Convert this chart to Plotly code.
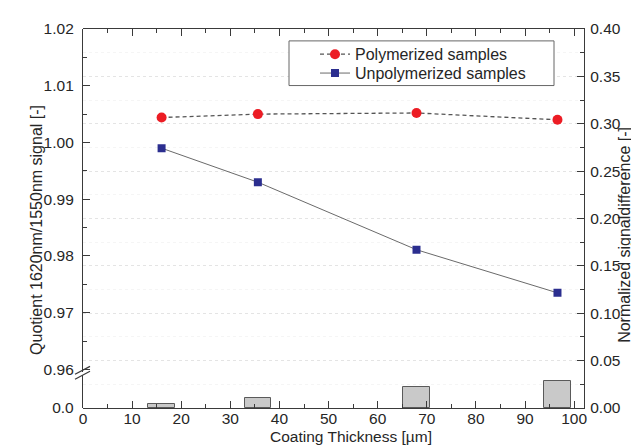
import plotly.graph_objects as go

# ---- data ----
thickness = [16.0, 35.6, 67.9, 96.6]
polymerized = [1.0044, 1.0050, 1.0052, 1.0040]
unpolymerized = [0.9990, 0.9930, 0.9811, 0.9735]
norm_diff = [0.004, 0.0105, 0.0225, 0.029]

left_ticks = [0.96, 0.97, 0.98, 0.99, 1.00, 1.01, 1.02]
right_ticks = [0.00, 0.05, 0.10, 0.15, 0.20, 0.25, 0.30, 0.35, 0.40]
x_ticks = [0, 10, 20, 30, 40, 50, 60, 70, 80, 90, 100]

W, H = 639, 446
L, R, T, B = 75, 576, 18, 400
FONT = "Liberation Sans, Arial, sans-serif"
AX = "#3a3a3a"
TXT = "#262626"


def px_x(p):
    return (p - L) / (R - L)


def px_y(p):
    return (B - p) / (B - T)


fig = go.Figure()

fig.add_trace(go.Bar(
    x=thickness, y=norm_diff, width=5.4, yaxis="y", xaxis="x",
    marker=dict(color="#c9c9c9", line=dict(color="#5a5a5a", width=1)),
    showlegend=False,
))
fig.add_trace(go.Scatter(
    x=thickness, y=polymerized, yaxis="y2", xaxis="x",
    mode="lines+markers", name="Polymerized samples", legend="legend",
    line=dict(color="#555555", width=1.3, dash="4px,3px"),
    marker=dict(symbol="circle", size=10, color="#ec1c24"),
))
fig.add_trace(go.Scatter(
    x=thickness, y=unpolymerized, yaxis="y2", xaxis="x",
    mode="lines+markers", name="Unpolymerized samples", legend="legend2",
    line=dict(color="#6a6a6a", width=1),
    marker=dict(symbol="square", size=8, color="#2b2e8f"),
))
# dummy trace to activate the lower left axis segment
fig.add_trace(go.Scatter(x=[None], y=[None], yaxis="y3", xaxis="x",
                         showlegend=False, hoverinfo="skip"))

tickfont = dict(family=FONT, size=15.5, color=TXT)
upper_bottom = px_y(364)
lower_top = px_y(367)

legend_common = dict(
    xanchor="left", yanchor="middle", bgcolor="rgba(0,0,0,0)", borderwidth=0,
    font=dict(family=FONT, size=16, color=TXT),
)

fig.update_layout(
    width=W, height=H,
    margin=dict(l=L, r=W - R, t=T, b=H - B, pad=0),
    paper_bgcolor="white", plot_bgcolor="rgba(0,0,0,0)",
    font=dict(family=FONT, size=15, color=TXT),
    bargap=0,
    xaxis=dict(
        range=[0, 102], anchor="y", tickvals=x_ticks, ticks="inside",
        ticklen=7, tickwidth=1.3, tickcolor=AX, showline=True, linecolor=AX,
        linewidth=1.3, mirror="ticks", showgrid=False, zeroline=False,
        tickfont=tickfont, ticklabelstandoff=-4,
        minor=dict(dtick=5, tick0=0, ticks="inside", ticklen=4, tickwidth=1.2,
                   tickcolor=AX, showgrid=False),
    ),
    yaxis=dict(
        domain=[0, 1], range=[0, 0.40], side="right", anchor="x",
        tickvals=right_ticks, tickformat=".2f", ticks="inside", ticklen=7,
        tickwidth=1.3, tickcolor=AX, showline=True, linecolor=AX,
        linewidth=1.3, zeroline=False, tickfont=tickfont,
        ticklabelstandoff=2,
        showgrid=True, gridcolor="#e4e4e4", gridwidth=1, griddash="dot",
        minor=dict(dtick=0.025, tick0=0, ticks="inside", ticklen=4,
                   tickwidth=1.2, tickcolor=AX, showgrid=True,
                   gridcolor="#f5f5f5", gridwidth=1),
    ),
    yaxis2=dict(
        domain=[upper_bottom, 1], range=[0.9595, 1.02], side="left",
        anchor="x", tickvals=left_ticks, tickformat=".2f", ticks="inside",
        ticklen=7, tickwidth=1.3, tickcolor=AX, showline=True, linecolor=AX,
        linewidth=1.3, zeroline=False, showgrid=False, tickfont=tickfont,
        ticklabelstandoff=5,
        minor=dict(dtick=0.005, tick0=0.96, ticks="inside", ticklen=4,
                   tickwidth=1.2, tickcolor=AX, showgrid=False),
    ),
    yaxis3=dict(
        domain=[0, lower_top], range=[0, 1], side="left", anchor="x",
        tickvals=[0], ticktext=["0.0"], ticks="inside", ticklen=7,
        tickwidth=1.3, tickcolor=AX, showline=True, linecolor=AX,
        linewidth=1.3, zeroline=False, showgrid=False, tickfont=tickfont,
        ticklabelstandoff=5,
    ),
    legend=dict(x=px_x(307), y=px_y(43.5), **legend_common),
    legend2=dict(x=px_x(307), y=px_y(62.5), **legend_common),
)

# legend frame
fig.add_shape(type="rect", xref="paper", yref="paper",
              x0=px_x(281), x1=px_x(546), y0=px_y(75), y1=px_y(30),
              line=dict(color="#666666", width=1), fillcolor="white",
              layer="above")

# axis break marks
for dy in (0, 5):
    fig.add_shape(type="line", xref="paper", yref="paper",
                  x0=px_x(67), y0=px_y(366 + dy), x1=px_x(82), y1=px_y(358 + dy),
                  line=dict(color=AX, width=1.3))

# axis titles
fig.add_annotation(text="Coating Thickness [µm]", xref="paper", yref="paper",
                   x=px_x(343), y=px_y(439.5), showarrow=False,
                   font=dict(family=FONT, size=15.5, color=TXT))
fig.add_annotation(text="Quotient 1620nm/1550nm signal [-]", xref="paper",
                   yref="paper", x=px_x(18), y=px_y(221), textangle=-90,
                   showarrow=False, font=dict(family=FONT, size=16, color=TXT))
fig.add_annotation(text="Normalized signaldifference [-]", xref="paper",
                   yref="paper", x=px_x(627), y=px_y(226), textangle=-90,
                   showarrow=False, font=dict(family=FONT, size=16, color=TXT))

fig.write_html("out.html")
